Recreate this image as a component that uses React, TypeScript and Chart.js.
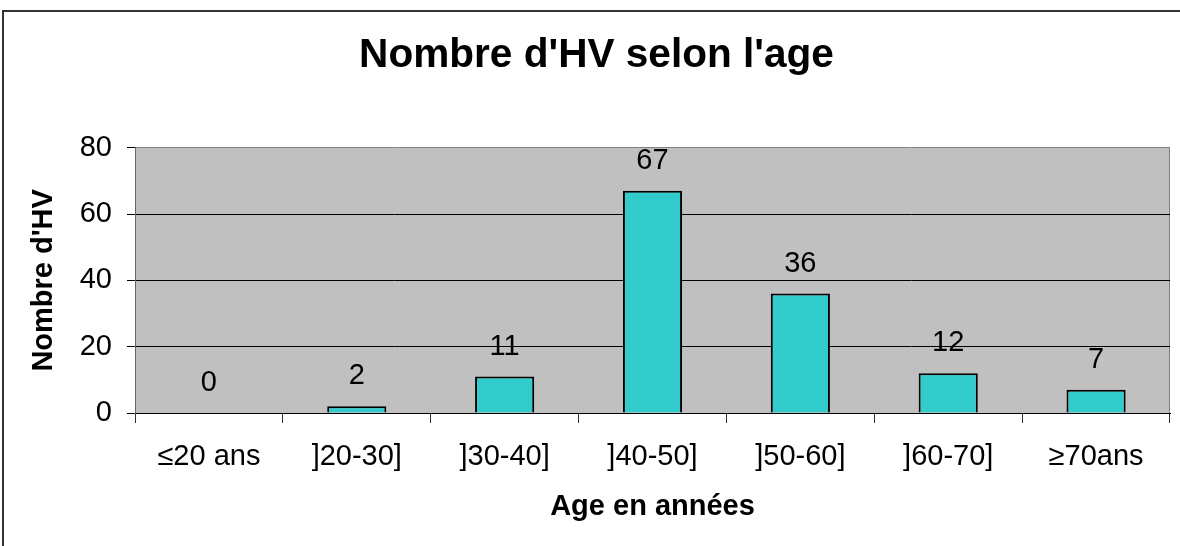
import React, { useEffect, useRef } from "react";
import { Chart, registerables } from "chart.js";

Chart.register(...registerables);

const categories = ["≤20 ans", "]20-30]", "]30-40]", "]40-50]", "]50-60]", "]60-70]", "≥70ans"];
const values = [0, 2, 11, 67, 36, 12, 7];
const yMin = 0;
const yMax = 80;
const yStep = 20;

const FONT = "'Liberation Sans', Arial, sans-serif";

const bgPlugin = {
  id: "plotBg",
  beforeDraw(chart: any) {
    const { ctx, chartArea } = chart;
    if (!chartArea) return;
    ctx.save();
    ctx.fillStyle = "#C0C0C0";
    ctx.fillRect(chartArea.left, chartArea.top, chartArea.right - chartArea.left, chartArea.bottom - chartArea.top);
    ctx.strokeStyle = "#808080";
    ctx.lineWidth = 1;
    ctx.beginPath();
    ctx.moveTo(chartArea.right - 0.5, chartArea.top);
    ctx.lineTo(chartArea.right - 0.5, chartArea.bottom);
    ctx.stroke();
    ctx.restore();
  },
};

const labelPlugin = {
  id: "valueLabels",
  afterDatasetsDraw(chart: any) {
    const { ctx } = chart;
    const meta = chart.getDatasetMeta(0);
    ctx.save();
    ctx.font = `29px ${FONT}`;
    ctx.fillStyle = "#000";
    ctx.textAlign = "center";
    ctx.textBaseline = "middle";
    meta.data.forEach((bar: any, i: number) => {
      ctx.fillText(String(values[i]), bar.x, bar.y - 30);
    });
    ctx.restore();
  },
};

export default function App() {
  const ref = useRef<HTMLCanvasElement | null>(null);

  useEffect(() => {
    if (!ref.current) return;
    const chart = new Chart(ref.current, {
      type: "bar",
      data: {
        labels: categories,
        datasets: [
          {
            data: values,
            backgroundColor: "#33CCCC",
            borderColor: "#000000",
            borderWidth: 2,
            barPercentage: 0.4,
            categoryPercentage: 1,
          },
        ],
      },
      options: {
        responsive: false,
        animation: false,
        layout: { padding: { left: 23, right: 10, top: 0, bottom: 0 } },
        plugins: {
          legend: { display: false },
          tooltip: { enabled: false },
          title: {
            display: true,
            text: "Nombre d'HV selon l'age",
            color: "#000",
            font: { family: FONT, size: 40.6, weight: "bold" },
            padding: { top: 31, bottom: 68 },
          },
        },
        scales: {
          x: {
            offset: true,
            afterFit(scale: any) {
              scale.height = 133;
            },
            grid: {
              offset: true,
              drawOnChartArea: false,
              drawTicks: true,
              tickLength: 10,
              tickColor: "#333333",
            },
            border: { display: true, color: "#000000", width: 1 },
            ticks: {
              color: "#000",
              font: { family: FONT, size: 29 },
              padding: 17,
              maxRotation: 0,
              autoSkip: false,
            },
            title: {
              display: true,
              text: "Age en années",
              color: "#000",
              font: { family: FONT, size: 29, weight: "bold" },
              padding: { top: 0, bottom: 22 },
            },
          },
          y: {
            min: yMin,
            max: yMax,
            afterFit(scale: any) {
              scale.width = 112;
            },
            grid: {
              color: (c: any) => (c.tick && c.tick.value === yMax ? "#808080" : "#000000"),
              lineWidth: 1,
              drawTicks: true,
              tickLength: 8,
              tickColor: "#000000",
            },
            border: { display: true, color: "#666666", width: 1 },
            ticks: {
              stepSize: yStep,
              color: "#000",
              font: { family: FONT, size: 29 },
              padding: 15,
            },
            title: {
              display: true,
              text: "Nombre d'HV",
              color: "#000",
              font: { family: FONT, size: 29, weight: "bold" },
              padding: { top: 4, bottom: 0 },
            },
          },
        },
      },
      plugins: [bgPlugin, labelPlugin],
    });
    return () => chart.destroy();
  }, []);

  return (
    <div style={{ position: "absolute", left: 0, top: 0, width: 1180, height: 546, overflow: "hidden", background: "#fff" }}>
      <div
        style={{
          position: "absolute",
          left: 2,
          top: 10,
          width: 1400,
          height: 800,
          borderLeft: "2px solid #333",
          borderTop: "2px solid #333",
          boxSizing: "border-box",
        }}
      />
      <canvas ref={ref} width={1180} height={546} style={{ position: "absolute", left: 0, top: 0 }} />
    </div>
  );
}
